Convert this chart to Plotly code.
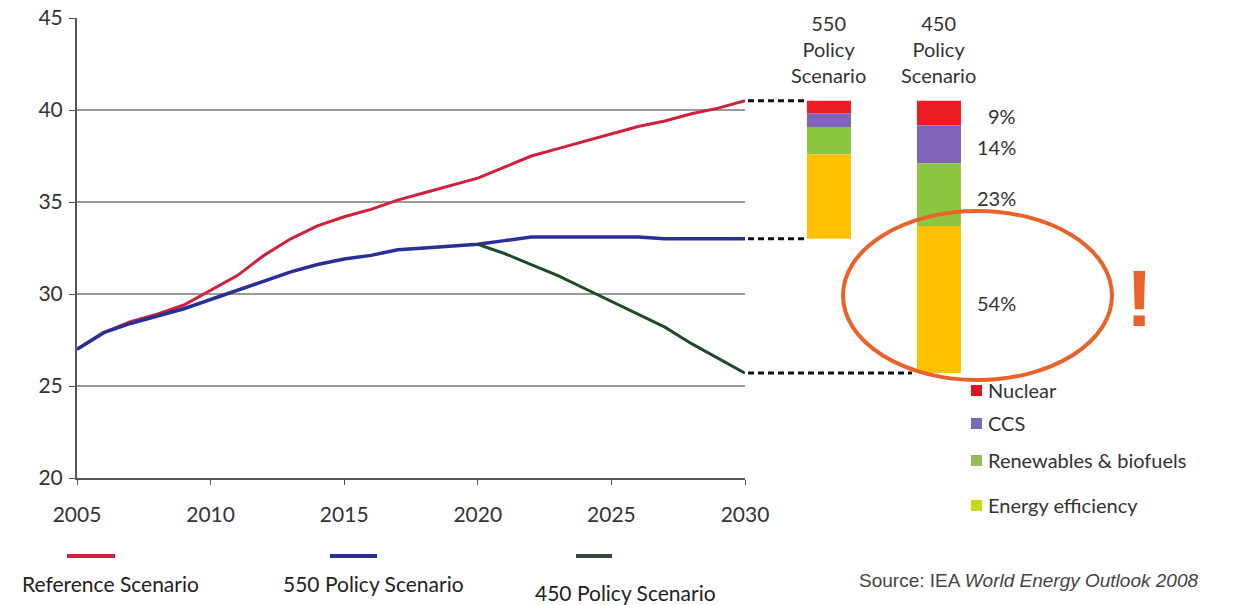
import plotly.graph_objects as go

# ---- data -------------------------------------------------------------
years = list(range(2005, 2031))

reference = [27.0, 27.9, 28.5, 28.9, 29.4, 30.2, 31.0, 32.1, 33.0, 33.7,
             34.2, 34.6, 35.1, 35.5, 35.9, 36.3, 36.9, 37.5, 37.9, 38.3,
             38.7, 39.1, 39.4, 39.8, 40.1, 40.5]
policy_550 = [27.0, 27.9, 28.4, 28.8, 29.2, 29.7, 30.2, 30.7, 31.2, 31.6,
              31.9, 32.1, 32.4, 32.5, 32.6, 32.7, 32.9, 33.1, 33.1, 33.1,
              33.1, 33.1, 33.0, 33.0, 33.0, 33.0]
policy_450_years = list(range(2020, 2031))
policy_450 = [32.7, 32.2, 31.6, 31.0, 30.3, 29.6, 28.9, 28.2, 27.3, 26.5, 25.7]

scenarios = ["550 Policy Scenario", "450 Policy Scenario"]
scenario_titles = ["550<br>Policy<br>Scenario", "450<br>Policy<br>Scenario"]
measures = ["Nuclear", "CCS", "Renewables & biofuels", "Energy efficiency"]
share_550 = [9, 10, 20, 61]      # % of abatement, 550 scenario
share_450 = [9, 14, 23, 54]      # % of abatement, 450 scenario (labelled)

y_ticks = [20, 25, 30, 35, 40, 45]
x_ticks = [2005, 2010, 2015, 2020, 2025, 2030]

# ---- styling ----------------------------------------------------------
W, H = 1233, 605
ML, MR, MT, MB = 77, 20, 18, 127
PW, PH = W - ML - MR, H - MT - MB

def px(x):
    return (x - ML) / PW

def py(y):
    return (H - MB - y) / PH

RED, BLUE, GREEN = "#d21f3c", "#2a2f96", "#1f4a2a"
SEG_COLORS = ["#ec1c24", "#8064b8", "#8cc63f", "#ffc000"]
KEY_COLORS = ["#e0141e", "#7b68b0", "#92bb5a", "#c9d61e"]
ORANGE = "#e8622a"
TXT = "#333333"
FONT = "Lato, Open Sans, sans-serif"

fig = go.Figure()

# scenario lines
fig.add_trace(go.Scatter(x=years, y=reference, mode="lines",
                         line=dict(color=RED, width=3), name="Reference Scenario"))
fig.add_trace(go.Scatter(x=years, y=policy_550, mode="lines",
                         line=dict(color=BLUE, width=3.5), name="550 Policy Scenario"))
fig.add_trace(go.Scatter(x=policy_450_years, y=policy_450, mode="lines",
                         line=dict(color=GREEN, width=3), name="450 Policy Scenario"))

# stacked abatement bars, from the 2030 scenario level up to the reference level
top = reference[-1]
ends = [policy_550[-1], policy_450[-1]]
shares = [share_550, share_450]
bases = [[], []]
heights = [[], []]
for i, (end, sh) in enumerate(zip(ends, shares)):
    total = top - end
    level = top
    for s in sh:
        h = total * s / 100
        level -= h
        bases[i].append(level)
        heights[i].append(h)

for k, m in enumerate(measures):
    fig.add_trace(go.Bar(
        x=scenarios, y=[heights[0][k], heights[1][k]],
        base=[bases[0][k], bases[1][k]],
        marker=dict(color=SEG_COLORS[k], line=dict(width=0)),
        width=0.4, xaxis="x2", yaxis="y2", name=m, showlegend=False))

# percentage labels beside the 450 bar
annotations = []
for k, s in enumerate(share_450):
    mid = bases[1][k] + heights[1][k] / 2
    annotations.append(dict(
        x=scenarios[1], y=mid, xref="x2", yref="y2", text=f"{s}%",
        showarrow=False, xanchor="right", yanchor="middle",
        xshift=79, yshift=-3,
        font=dict(family=FONT, size=20, color=TXT)))

# scenario headers
for s, t in zip(scenarios, scenario_titles):
    annotations.append(dict(
        x=s, y=py(9), xref="x2", yref="paper", text=t, showarrow=False,
        xanchor="center", yanchor="top", align="center",
        font=dict(family=FONT, size=20, color=TXT)))

# key for the bar segments
key_y = [390, 423, 460, 505]
shapes = []
for m, c, yk in zip(measures, KEY_COLORS, key_y):
    shapes.append(dict(type="rect", xref="paper", yref="paper",
                       x0=px(971), x1=px(982), y0=py(yk + 6), y1=py(yk - 5),
                       fillcolor=c, line=dict(width=0)))
    annotations.append(dict(x=px(986), y=py(yk), xref="paper", yref="paper",
                            text=m, showarrow=False, xanchor="left", yanchor="middle",
                            font=dict(family=FONT, size=20, color=TXT)))

# dashed connectors from the 2030 line ends to the bars
for yv, x_end in [(reference[-1], 806), (policy_550[-1], 806), (policy_450[-1], 912)]:
    shapes.append(dict(type="line", xref="paper", yref="y",
                       x0=px(748), x1=px(x_end), y0=yv, y1=yv,
                       line=dict(color="#111111", width=3, dash="6px,4px")))

# highlight ring and exclamation mark
shapes.append(dict(type="circle", xref="paper", yref="paper",
                   x0=px(843), x1=px(1112), y0=py(380), y1=py(211),
                   line=dict(color=ORANGE, width=4)))
annotations.append(dict(x=px(1139), y=py(298), xref="paper", yref="paper",
                        text="<b>!</b>", showarrow=False,
                        xanchor="center", yanchor="middle",
                        font=dict(family="Liberation Sans, Arial", size=80, color=ORANGE)))

# line legend at the bottom
legend_items = [("Reference Scenario", RED, 67, 115, 110, 583),
                ("550 Policy Scenario", BLUE, 330, 377, 373, 583),
                ("450 Policy Scenario", "#3a473c", 576, 612, 625, 592)]
for label, c, x0, x1, tx, ty in legend_items:
    shapes.append(dict(type="line", xref="paper", yref="paper",
                       x0=px(x0), x1=px(x1), y0=py(556), y1=py(556),
                       line=dict(color=c, width=4)))
    annotations.append(dict(x=px(tx), y=py(ty), xref="paper", yref="paper",
                            text=label, showarrow=False,
                            xanchor="center", yanchor="middle",
                            font=dict(family=FONT, size=21, color="#222222")))

annotations.append(dict(x=px(1200), y=py(580), xref="paper", yref="paper",
                        text="Source: IEA <i>World Energy Outlook 2008</i>",
                        showarrow=False, xanchor="right", yanchor="middle",
                        font=dict(family="Liberation Sans, Arial, sans-serif",
                                  size=19, color="#444444")))

fig.update_layout(
    width=W, height=H, autosize=False,
    margin=dict(l=ML, r=MR, t=MT, b=MB, pad=0, autoexpand=False),
    paper_bgcolor="white", plot_bgcolor="white",
    showlegend=False, barmode="overlay",
    xaxis=dict(domain=[0, px(745)], range=[2005, 2030], tickvals=x_ticks,
               showgrid=False, showline=True, linecolor="#555555", linewidth=2,
               ticks="outside", ticklen=5, tickcolor="#555555",
               ticklabelstandoff=12, automargin=False,
               tickfont=dict(family=FONT, size=21, color=TXT), zeroline=False),
    yaxis=dict(range=[20, 45], tickvals=y_ticks, showgrid=True,
               gridcolor="#9a9a9a", gridwidth=1.5,
               showline=True, linecolor="#555555", linewidth=2,
               ticks="outside", ticklen=6, tickcolor="#555555",
               ticklabelstandoff=2, automargin=False,
               tickfont=dict(family=FONT, size=21, color=TXT), zeroline=False),
    xaxis2=dict(domain=[px(770), 1], range=[-0.536, -0.536 + (1213 - 770) / 110],
                type="category", visible=False, anchor="y2", automargin=False),
    yaxis2=dict(range=[20, 45], visible=False, anchor="x2", overlaying="y",
                automargin=False),
    shapes=shapes, annotations=annotations,
)

fig.write_html("out.html")
